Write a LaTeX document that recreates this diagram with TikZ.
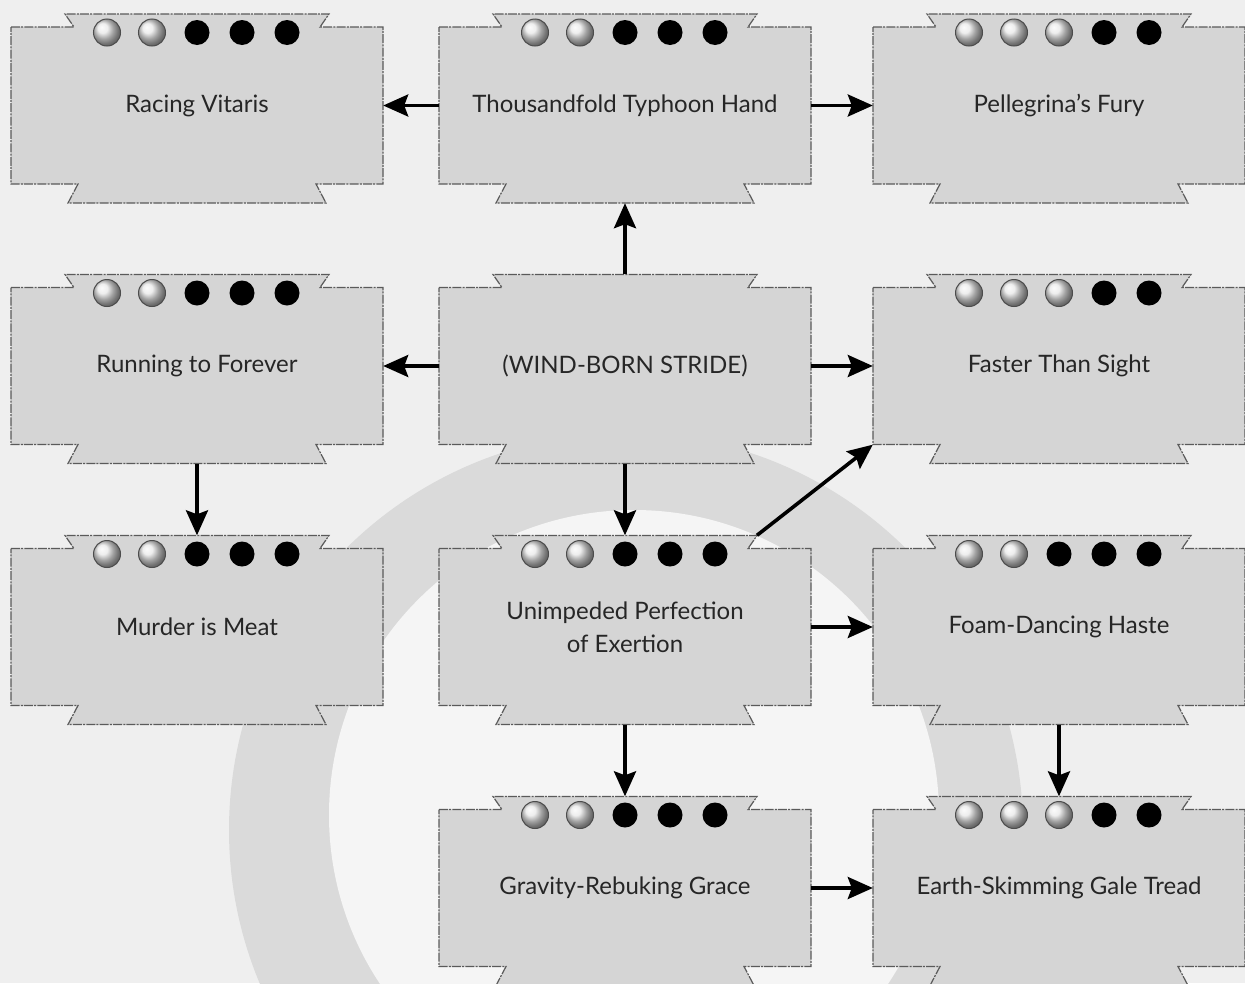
\documentclass[tikz,border=0pt]{standalone}
\usepackage{fontspec}
\setmainfont{Lato}
\usetikzlibrary{arrows.meta,calc}
\definecolor{bgcol}{HTML}{EFEFEF}
\definecolor{ringcol}{HTML}{DADADA}
\definecolor{innercol}{HTML}{F5F5F5}
\definecolor{boxcol}{HTML}{D5D5D5}
\definecolor{edgecol}{HTML}{5A5A5A}
\tikzset{
  boxshape/.style={fill=boxcol, draw=edgecol, line width=1.2pt,
    dash pattern=on 9pt off 1.2pt on 2pt off 1.2pt},
  skilltext/.style={minimum width=372pt, minimum height=157pt, inner sep=0pt,
    align=center, font=\fontsize{24}{33}\selectfont, text=black!85},
  arr/.style={line width=3.6pt, -{Stealth[length=25pt,width=22pt,inset=4pt]}},
  silverdot/.style={ball color=gray!18},
  silveredge/.style={draw=gray!60!black, line width=1pt},
  blackdot/.style={fill=black}
}
\newcommand{\skbox}[5]{%
  \begin{scope}[shift={(#2,#3)}]
    \draw[boxshape] (-186,-78.5) -- (-123,-78.5) -- (-132,-91.5) -- (132,-91.5)
      -- (123,-78.5) -- (186,-78.5) -- (186,78.5) -- (119,78.5) -- (129,97.5)
      -- (-129,97.5) -- (-119,78.5) -- (-186,78.5) -- cycle;
    \ifnum#5>-1
      \foreach \i in {1,...,5} {
        \pgfmathsetmacro\dx{(\i-3)*45}
        \ifnum\i>#5
          \fill[blackdot] (\dx,-73) circle (12.5);
        \else
          \shade[silverdot] (\dx,-73) circle (13.5);
          \draw[silveredge] (\dx,-73) circle (13.5);
        \fi
      }
    \fi
  \end{scope}
  \node[skilltext] (#1) at (#2,#3) {#4};
}
\begin{document}
\begin{tikzpicture}[x=1pt,y=-1pt]
\useasboundingbox (0,0) rectangle (1245,983);
\clip (0,0) rectangle (1245,983);
\fill[bgcol] (0,0) rectangle (1245,983);
\fill[ringcol] (626,830) circle (397);
\fill[innercol] (634,815) circle (305);

\skbox{racing}{197}{105.5}{Racing Vitaris}{2}
\skbox{thousand}{625}{105.5}{Thousandfold Typhoon Hand}{2}
\skbox{pelle}{1059}{105.5}{Pellegrina’s Fury}{3}
\skbox{running}{197}{366}{Running to Forever}{2}
\skbox{wind}{625}{366}{(WIND-BORN STRIDE)}{-1}
\skbox{faster}{1059}{366}{Faster Than Sight}{3}
\skbox{murder}{197}{627}{Murder is Meat}{2}
\skbox{unimp}{625}{627}{Unimpeded Perfection\\of Exertion}{2}
\skbox{foam}{1059}{627}{Foam-Dancing Haste}{2}
\skbox{gravity}{625}{888}{Gravity-Rebuking Grace}{2}
\skbox{earth}{1059}{888}{Earth-Skimming Gale Tread}{3}

\draw[arr] (thousand.west) -- (racing.east);
\draw[arr] (thousand.east) -- (pelle.west);
\draw[arr] ($(wind.north)+(0,-13)$) -- ($(thousand.south)+(0,19)$);
\draw[arr] (wind.west) -- (running.east);
\draw[arr] (wind.east) -- (faster.west);
\draw[arr] ($(wind.south)+(0,19)$) -- ($(unimp.north)+(0,-13)$);
\draw[arr] ($(running.south)+(0,19)$) -- ($(murder.north)+(0,-13)$);
\draw[arr] ($(unimp.north)+(132,-13)$) -- (faster.south west);
\draw[arr] (unimp.east) -- (foam.west);
\draw[arr] ($(unimp.south)+(0,19)$) -- ($(gravity.north)+(0,-13)$);
\draw[arr] ($(foam.south)+(0,19)$) -- ($(earth.north)+(0,-13)$);
\draw[arr] (gravity.east) -- (earth.west);
\end{tikzpicture}
\end{document}
